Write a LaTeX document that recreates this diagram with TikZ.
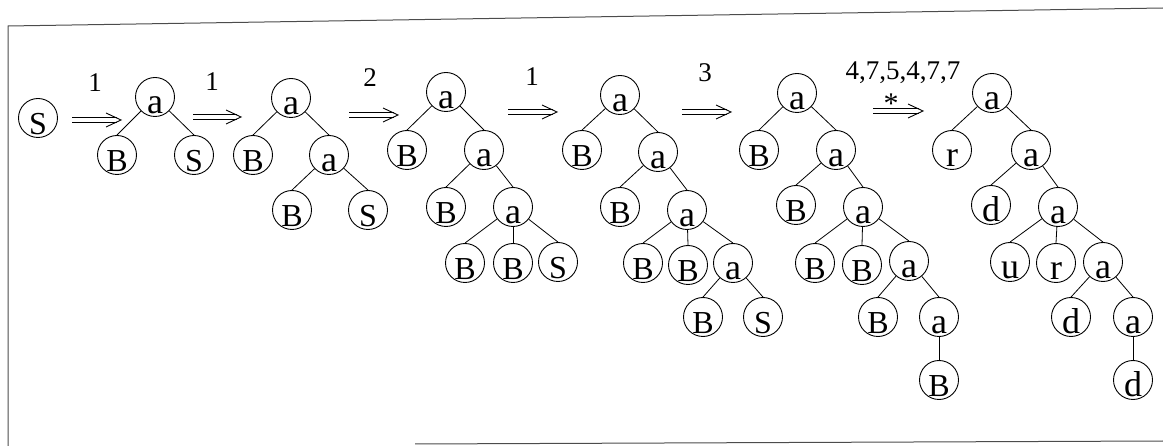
\documentclass[tikz,border=0pt]{standalone}
\usepackage{fontspec}
\setmainfont{Liberation Serif}
% letter set low in its circle, baseline near the bottom rim
\newcommand{\lowtxt}[1]{\makebox[0pt]{\raisebox{-17pt}[0pt][0pt]{#1}}}
\newcommand{\vx}[3]{\node[vtx] (#1) at (#2) {\lowtxt{#3}};}
\newcommand{\vl}[3]{\node[vtx,lowercase] (#1) at (#2) {\lowtxt{#3}};}
% double derivation arrow between two named coordinates
\newcommand{\derivearrow}[2]{%
  \draw[derive] ([yshift=2.6pt]#1) -- ([xshift=-4pt,yshift=2.6pt]#2);
  \draw[derive] ([yshift=-2.6pt]#1) -- ([xshift=-4pt,yshift=-2.6pt]#2);
  \draw[derive,line join=miter] ([xshift=-15pt,yshift=7pt]#2) -- (#2) -- ([xshift=-15pt,yshift=-7pt]#2);}

\begin{document}
\begin{tikzpicture}[x=1pt,y=-1pt,
  vtx/.style={circle,draw,line width=0.9pt,minimum size=39pt,inner sep=0pt,
              font=\fontsize{32}{32}\selectfont},
  lowercase/.style={font=\fontsize{36}{36}\selectfont},
  link/.style={line width=0.8pt},
  derive/.style={line width=0.9pt},
  steplabel/.style={font=\fontsize{27}{27}\selectfont,inner sep=0pt},
  frameline/.style={gray!60!black,line width=1pt}]

\useasboundingbox (0,0) rectangle (1163,446);

% frame
\draw[frameline] (8,446) -- (8,26) -- (1163,8);
\draw[frameline] (415,444) -- (1163,441);

% start symbol
\vx{s0}{38,118}{S}

% tree 1
\vl{t1a}{155,97}{a}
\vx{t1B}{117,155}{B}
\vx{t1S}{194,155}{S}

% tree 2
\vl{t2a}{291,98}{a}
\vx{t2B}{253,155}{B}
\vl{t2b}{329,155}{a}
\vx{t2C}{292,210}{B}
\vx{t2S}{368,210}{S}

% tree 3
\vl{t3a}{446,92}{a}
\vx{t3B}{407,150}{B}
\vl{t3b}{484,150}{a}
\vx{t3C}{446,207}{B}
\vl{t3c}{513,207}{a}
\vx{t3D}{465,263}{B}
\vx{t3E}{513,263}{B}
\vx{t3S}{558,262}{S}

% tree 4
\vl{t4a}{620,95}{a}
\vx{t4B}{582,150}{B}
\vl{t4b}{658,152}{a}
\vx{t4C}{620,207}{B}
\vl{t4c}{687,210}{a}
\vx{t4D}{643,263}{B}
\vx{t4E}{688,265}{B}
\vl{t4d}{733,263}{a}
\vx{t4F}{703,317}{B}
\vx{t4S}{763,317}{S}

% tree 5
\vl{t5a}{797,93}{a}
\vx{t5B}{759,150}{B}
\vl{t5b}{836,150}{a}
\vx{t5C}{796,205}{B}
\vl{t5c}{863,207}{a}
\vx{t5D}{815,263}{B}
\vx{t5E}{862,265}{B}
\vl{t5d}{909,261}{a}
\vx{t5F}{878,317}{B}
\vl{t5e}{939,317}{a}
\vx{t5G}{939,380}{B}

% tree 6
\vl{t6a}{992,93}{a}
\vl{t6r}{952,150}{r}
\vl{t6b}{1031,150}{a}
\vl{t6d}{991,205}{d}
\vl{t6c}{1058,207}{a}
\vl{t6u}{1010,262}{u}
\vl{t6s}{1056,263}{r}
\vl{t6e}{1103,262}{a}
\vl{t6f}{1071,317}{d}
\vl{t6g}{1133,317}{a}
\vl{t6h}{1133,380}{d}

% tree edges
\foreach \p/\c in {t1a/t1B,t1a/t1S,
  t2a/t2B,t2a/t2b,t2b/t2C,t2b/t2S,
  t3a/t3B,t3a/t3b,t3b/t3C,t3b/t3c,t3c/t3D,t3c/t3E,t3c/t3S,
  t4a/t4B,t4a/t4b,t4b/t4C,t4b/t4c,t4c/t4D,t4c/t4E,t4c/t4d,t4d/t4F,t4d/t4S,
  t5a/t5B,t5a/t5b,t5b/t5C,t5b/t5c,t5c/t5D,t5c/t5E,t5c/t5d,t5d/t5F,t5d/t5e,t5e/t5G,
  t6a/t6r,t6a/t6b,t6b/t6d,t6b/t6c,t6c/t6u,t6c/t6s,t6c/t6e,t6e/t6f,t6e/t6g,t6g/t6h}
  \draw[link] (\p) -- (\c.north);

% derivation steps
\coordinate (d1s) at (72,120);  \coordinate (d1e) at (121,120);
\coordinate (d2s) at (193,117); \coordinate (d2e) at (241,117);
\coordinate (d3s) at (349,115); \coordinate (d3e) at (398,115);
\coordinate (d4s) at (508,112); \coordinate (d4e) at (557,112);
\coordinate (d5s) at (682,112); \coordinate (d5e) at (731,112);
\coordinate (d6s) at (873,111); \coordinate (d6e) at (923,111);
\foreach \k in {1,...,6} {\derivearrow{d\k s}{d\k e}}

\node[steplabel] (l1) at (95,83)  {1};
\node[steplabel] (l2) at (212,82) {1};
\node[steplabel] (l3) at (370,78) {2};
\node[steplabel] (l4) at (532,77) {1};
\node[steplabel] (l5) at (705,73) {3};
\node[steplabel] (l6) at (903,73) {4,7,5,4,7,7};
\node[font=\fontsize{30}{30}\selectfont,inner sep=0pt] (st) at (891,104) {*};
\end{tikzpicture}
\end{document}
